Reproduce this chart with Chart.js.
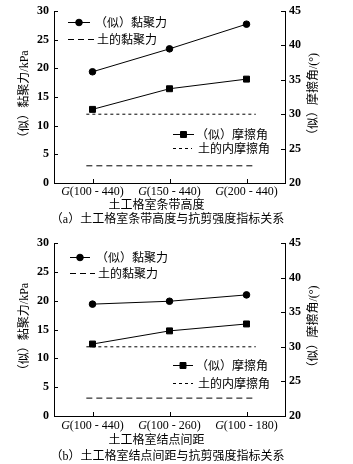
<!DOCTYPE html>
<html><head><meta charset="utf-8">
<script src="https://cdn.jsdelivr.net/npm/chart.js@4"></script>
<style>
html,body{margin:0;padding:0;background:#fff;width:353px;height:464px;overflow:hidden}
.box{position:absolute;left:0;width:353px}
canvas{display:block}
</style></head><body>
<div class="box" style="top:0"><canvas id="ca" width="353" height="232"></canvas></div>
<div class="box" style="top:232px"><canvas id="cb" width="353" height="232"></canvas></div>
<script>
// ---- data ----
const categoriesA = ['G(100 - 440)', 'G(150 - 440)', 'G(200 - 440)'];
const categoriesB = ['G(100 - 440)', 'G(100 - 260)', 'G(100 - 180)'];
const cohesionA = [19.4, 23.4, 27.7];      // （似）黏聚力 kPa
const frictionA = [30.7, 33.7, 35.1];      // （似）摩擦角 °
const soilCohesionA = [3.0, 3.0];          // 土的黏聚力 kPa
const soilFrictionA = [30.0, 30.0];        // 土的内摩擦角 °
const cohesionB = [19.4, 19.9, 21.0];
const frictionB = [30.4, 32.3, 33.3];
const soilCohesionB = [3.1, 3.1];
const soilFrictionB = [30.0, 30.0];
const refLineX = [-0.08, 2.12];            // extent of soil reference lines (category units)
const leftRange = [0, 30];
const rightRange = [20, 45];
const tickStep = 5;

const SERIF = "'Liberation Serif', 'Times New Roman', serif";
const MIX = "'Liberation Serif', 'Noto Sans CJK SC', serif";
const CJK = "'Noto Sans CJK SC', sans-serif";

const decor = {
  id: 'decor',
  afterDraw(chart, args, o) {
    const {ctx, chartArea: a, scales} = chart;
    const x = scales.x, y = scales.y, y1 = scales.y1;
    ctx.save();
    ctx.strokeStyle = '#000'; ctx.lineWidth = 1; ctx.setLineDash([]);
    ctx.beginPath();
    y.ticks.forEach(t => { const py = Math.round(y.getPixelForValue(t.value)) + 0.5; ctx.moveTo(a.left, py); ctx.lineTo(a.left + 4, py); });
    y1.ticks.forEach(t => { const py = Math.round(y1.getPixelForValue(t.value)) + 0.5; ctx.moveTo(a.right, py); ctx.lineTo(a.right - 4, py); });
    o.cats.forEach((c, i) => { const px = Math.round(x.getPixelForValue(i)) + 0.5; ctx.moveTo(px, a.bottom); ctx.lineTo(px, a.bottom - 4); });
    ctx.stroke();
    // x tick labels, italic G
    ctx.fillStyle = '#000'; ctx.textBaseline = 'middle'; ctx.textAlign = 'left';
    o.cats.forEach((c, i) => {
      const px = x.getPixelForValue(i);
      const g = c.slice(0, 1), rest = c.slice(1);
      ctx.font = 'italic 12px ' + SERIF; const wg = ctx.measureText(g).width;
      ctx.font = '12px ' + SERIF; const wr = ctx.measureText(rest).width;
      const sx = px - (wg + wr) / 2;
      ctx.font = 'italic 12px ' + SERIF; ctx.fillText(g, sx, a.bottom + o.tickDy);
      ctx.font = '12px ' + SERIF; ctx.fillText(rest, sx + wg, a.bottom + o.tickDy);
    });
    // x axis title
    ctx.textAlign = 'center';
    ctx.font = '12px ' + CJK;
    ctx.fillText(o.xTitle, (a.left + a.right) / 2 + o.xTitleDx, a.bottom + o.xTitleDy);
    // y titles (both read bottom-to-top)
    const yc = (a.top + a.bottom) / 2;
    [[o.yTitle, o.yTitleX], [o.y1Title, o.y1TitleX]].forEach(([t, tx]) => {
      ctx.save(); ctx.translate(tx, yc); ctx.rotate(-Math.PI / 2);
      ctx.font = '12px ' + MIX; ctx.textAlign = 'center'; ctx.textBaseline = 'middle';
      ctx.fillText(t, 0, 0); ctx.restore();
    });
    // legends
    o.legend.forEach(it => {
      const ds = chart.data.datasets[it.ds];
      ctx.save();
      ctx.strokeStyle = '#000'; ctx.lineWidth = ds.borderWidth;
      ctx.setLineDash(ds.borderDash || []);
      ctx.beginPath(); ctx.moveTo(it.x0, it.y + 0.5); ctx.lineTo(it.x1, it.y + 0.5); ctx.stroke();
      ctx.setLineDash([]);
      if (ds.pointRadius > 0) {
        ctx.fillStyle = '#000';
        Chart.helpers.drawPoint(ctx, {pointStyle: ds.pointStyle, radius: ds.pointRadius, rotation: 0, borderWidth: 1}, (it.x0 + it.x1) / 2, it.y + 0.5);
      }
      ctx.fillStyle = '#000'; ctx.font = '12px ' + CJK; ctx.textAlign = 'left'; ctx.textBaseline = 'middle';
      ctx.fillText(ds.label, it.tx, it.y);
      ctx.restore();
    });
    ctx.restore();
  }
};

function build(id, cats, coh, fri, sCoh, sFri, caption, xTitle, L) {
  const pts = arr => arr.map((v, i) => ({x: i, y: v}));
  const ref = arr => arr.map((v, i) => ({x: refLineX[i], y: v}));
  const tickFont = {family: SERIF, size: 12, weight: 'bold'};
  new Chart(document.getElementById(id), {
    type: 'line',
    data: {
      datasets: [
        {label: '（似）黏聚力', data: pts(coh), yAxisID: 'y', borderColor: '#000', backgroundColor: '#000', borderWidth: 1, pointStyle: 'circle', pointRadius: 3.3, pointBorderWidth: 1, tension: 0},
        {label: '土的黏聚力', data: ref(sCoh), yAxisID: 'y', borderColor: '#000', borderWidth: 1, borderDash: [6, 4], pointRadius: 0},
        {label: '（似）摩擦角', data: pts(fri), yAxisID: 'y1', borderColor: '#000', backgroundColor: '#000', borderWidth: 1, pointStyle: 'rect', pointRadius: 4.2, pointBorderWidth: 1, tension: 0},
        {label: '土的内摩擦角', data: ref(sFri), yAxisID: 'y1', borderColor: '#000', borderWidth: 1, borderDash: [3, 3], pointRadius: 0}
      ]
    },
    options: {
      responsive: false, animation: false, events: [],
      layout: {padding: {top: L.padTop, left: 0, right: 18, bottom: L.padBottom}},
      plugins: {
        legend: {display: false}, tooltip: {enabled: false},
        title: {display: true, position: 'bottom', text: caption, color: '#000', padding: {top: 0, bottom: 0}, font: {family: MIX, size: 12, weight: 'normal'}},
        decor: {cats: cats, tickDy: L.tickDy, xTitle: xTitle, xTitleDx: -13, xTitleDy: L.xTitleDy,
                yTitle: '（似）黏聚力/kPa', yTitleX: 25, y1Title: '（似）摩擦角/(°)', y1TitleX: 314, legend: L.legend}
      },
      scales: {
        x: {type: 'linear', min: -0.5, max: 2.5, ticks: {display: false}, grid: {display: false, drawTicks: false}, border: {display: true, color: '#000', width: 1},
            afterFit: s => { s.height = L.xH; s.paddingLeft = 0; s.paddingRight = 0; }},
        y: {position: 'left', min: leftRange[0], max: leftRange[1], ticks: {stepSize: tickStep, padding: 5, color: '#000', font: tickFont}, grid: {display: false, drawTicks: false}, border: {display: true, color: '#000', width: 1},
            afterFit: s => { s.width = 54; s.paddingTop = 0; s.paddingBottom = 0; }},
        y1: {position: 'right', min: rightRange[0], max: rightRange[1], ticks: {stepSize: tickStep, padding: 4, color: '#000', font: tickFont}, grid: {display: false, drawTicks: false}, border: {display: true, color: '#000', width: 1},
            afterFit: s => { s.width = 50; s.paddingTop = 0; s.paddingBottom = 0; }}
      }
    },
    plugins: [decor]
  });
}

build('ca', categoriesA, cohesionA, frictionA, soilCohesionA, soilFrictionA,
  '（a）土工格室条带高度与抗剪强度指标关系', '土工格室条带高度',
  {padTop: 11, padBottom: 5, xH: 29.6, tickDy: 9, xTitleDy: 21.5,
   legend: [{ds: 0, x0: 68, x1: 90, y: 22, tx: 95}, {ds: 1, x0: 68, x1: 95, y: 39, tx: 97},
            {ds: 2, x0: 173, x1: 194, y: 134, tx: 196}, {ds: 3, x0: 173, x1: 192, y: 148, tx: 198}]});
build('cb', categoriesB, cohesionB, frictionB, soilCohesionB, soilFrictionB,
  '（b）土工格室结点间距与抗剪强度指标关系', '土工格室结点间距',
  {padTop: 11, padBottom: 0, xH: 33.6, tickDy: 10, xTitleDy: 23,
   legend: [{ds: 0, x0: 70, x1: 90, y: 25, tx: 96}, {ds: 1, x0: 70, x1: 95, y: 41, tx: 98},
            {ds: 2, x0: 173, x1: 193, y: 133, tx: 196}, {ds: 3, x0: 173, x1: 193, y: 151, tx: 198}]});
</script>
</body></html>
